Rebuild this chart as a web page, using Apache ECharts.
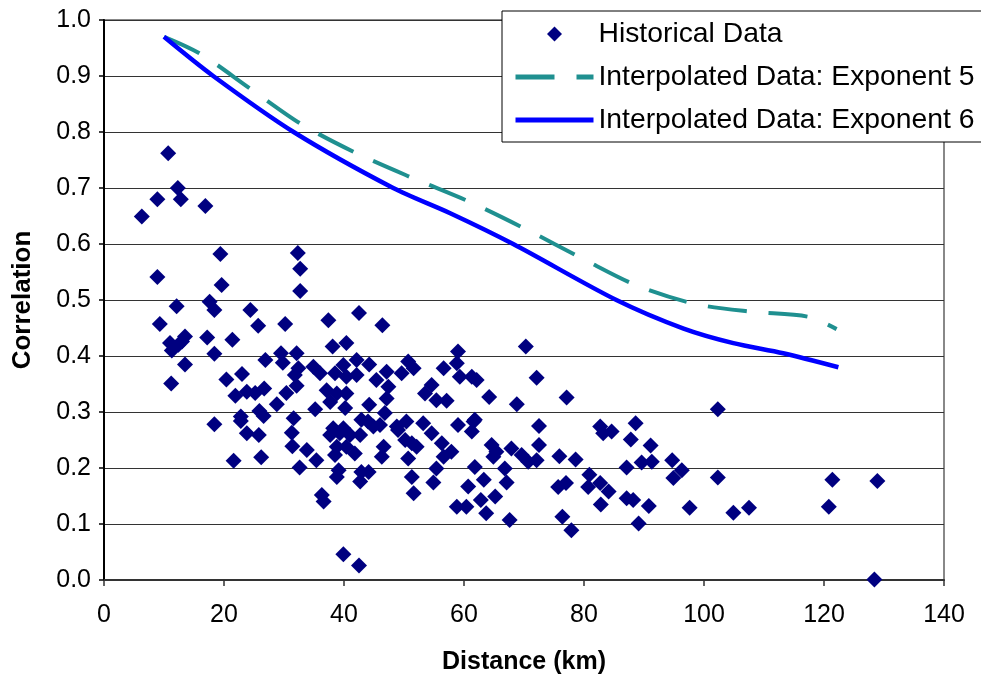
<!DOCTYPE html>
<html>
<head>
<meta charset="utf-8">
<script src="https://cdn.jsdelivr.net/npm/echarts@6/dist/echarts.min.js"></script>
<style>
html,body{margin:0;padding:0;background:#fff;}
#chart{width:981px;height:675px;}
</style>
</head>
<body>
<div id="chart"></div>
<script>
// Historical data (distance km, correlation)
var histX = [10.7,12.3,8.9,12.8,16.9,6.3,19.4,8.9,19.6,12.1,17.6,18.4,24.4,9.3,25.7,30.2,32.3,32.7,32.7,
  11.0,11.3,12.4,13.5,13.0,17.2,21.4,18.4,13.5,11.2,26.9,29.5,29.8,32.1,20.4,23.0,21.9,23.8,25.2,26.7,28.8,30.4,32.1,
  18.4,22.8,22.8,25.9,26.6,23.8,25.8,31.6,31.3,31.4,21.6,26.2,32.6,
  37.4,42.5,46.4,38.1,40.4,42.1,44.2,34.9,36.0,32.4,38.5,39.9,40.4,42.1,47.1,50.7,51.6,49.6,56.6,59.0,58.8,61.3,62.1,59.3,45.4,
  31.8,37.1,38.8,40.4,47.4,47.1,54.6,53.5,55.4,57.1,35.2,37.7,40.2,44.2,46.8,42.9,50.4,53.2,59.0,61.6,38.2,39.9,44.9,48.8,
  44.0,46.0,49.0,54.6,61.3,37.7,39.3,41.0,42.7,38.8,40.4,41.8,38.5,46.6,46.3,50.2,51.3,52.1,50.7,56.3,57.9,56.6,33.8,35.4,
  39.1,38.8,42.9,44.1,42.7,51.3,55.4,54.9,61.8,60.7,36.3,36.6,51.6,58.8,60.4,39.9,42.5,
  70.3,72.1,64.2,68.8,77.1,61.8,72.5,64.6,65.4,64.9,67.9,72.5,69.6,70.7,72.1,75.9,78.6,82.7,83.2,84.6,88.6,87.8,91.1,87.1,89.6,91.3,
  66.8,67.1,63.3,62.8,65.2,63.7,67.6,75.7,77.0,80.9,80.7,82.7,84.1,82.8,87.1,88.2,90.8,76.4,77.9,89.1,
  102.3,94.7,96.3,94.9,102.3,121.4,128.9,97.6,104.9,107.5,120.8,128.4];
var histY = [0.762,0.700,0.680,0.680,0.668,0.649,0.582,0.541,0.527,0.489,0.497,0.482,0.482,0.457,0.454,0.457,0.584,0.556,0.516,
  0.423,0.410,0.420,0.435,0.426,0.433,0.429,0.404,0.385,0.351,0.393,0.405,0.388,0.405,0.358,0.368,0.329,0.336,0.334,0.342,0.314,0.334,0.347,
  0.278,0.292,0.284,0.302,0.293,0.262,0.259,0.289,0.263,0.239,0.213,0.219,0.201,
  0.464,0.477,0.455,0.417,0.423,0.393,0.385,0.381,0.369,0.378,0.369,0.384,0.363,0.366,0.372,0.390,0.378,0.369,0.378,0.408,0.387,0.363,0.357,0.363,0.357,
  0.366,0.339,0.333,0.333,0.345,0.324,0.348,0.333,0.321,0.320,0.305,0.318,0.307,0.313,0.298,0.286,0.283,0.280,0.277,0.283,0.271,0.271,0.274,0.274,
  0.283,0.277,0.268,0.262,0.265,0.259,0.262,0.259,0.259,0.238,0.238,0.226,0.223,0.238,0.220,0.250,0.244,0.238,0.217,0.244,0.229,0.220,0.232,0.214,
  0.196,0.184,0.193,0.193,0.176,0.184,0.199,0.174,0.202,0.167,0.152,0.140,0.155,0.131,0.131,0.046,0.026,
  0.417,0.361,0.327,0.314,0.326,0.286,0.275,0.241,0.229,0.220,0.235,0.241,0.223,0.211,0.214,0.221,0.215,0.274,0.262,0.265,0.280,0.251,0.240,0.201,0.210,0.211,
  0.199,0.174,0.179,0.143,0.149,0.119,0.107,0.166,0.173,0.188,0.166,0.173,0.158,0.135,0.146,0.143,0.132,0.113,0.089,0.101,
  0.305,0.214,0.196,0.182,0.183,0.179,0.177,0.129,0.120,0.129,0.131,0.001];

// Interpolated curves
var exp5X = [10, 16, 24.3, 32.9, 42.1, 51.6, 61, 70.4, 79.9, 89, 98.5, 107.9, 117.4, 122.1];
var exp5Y = [0.97, 0.94, 0.878, 0.814, 0.762, 0.717, 0.675, 0.626, 0.573, 0.525, 0.493, 0.479, 0.470, 0.448];
var exp6X = [10, 18.2, 31.6, 48.2, 57.7, 68.2, 85.4, 96.6, 104.9, 113.2, 122.4];
var exp6Y = [0.97, 0.90, 0.80, 0.70, 0.655, 0.60, 0.50, 0.449, 0.423, 0.405, 0.380];

var seriesNames = ['Historical Data', 'Interpolated Data: Exponent 5', 'Interpolated Data: Exponent 6'];

function pairs(xs, ys) { return xs.map(function (x, i) { return [x, ys[i]]; }); }

var FONT = '"Liberation Sans", Arial, sans-serif';
// legend icon: small diamond centred in a 78x15 box (leading moveTo points set the box extent)
var DIAMOND_ICON = 'path://M0,0 M78,15 M39,0 L46.5,7.5 L39,15 L31.5,7.5 Z';

var chart = echarts.init(document.getElementById('chart'), null, {renderer: 'canvas'});
chart.setOption({
  animation: false,
  backgroundColor: '#fff',
  textStyle: {fontFamily: FONT},
  grid: {left: 104, right: 37, top: 20, bottom: 95, outerBoundsMode: 'none', containLabel: false,
    show: true, borderColor: '#888', borderWidth: 2, backgroundColor: 'transparent'},
  legend: {
    orient: 'vertical', left: 502, top: 11,
    itemWidth: 78, itemHeight: 15, itemGap: 15,
    padding: [9, 30, 8, 11],
    backgroundColor: '#fff', borderColor: '#000', borderWidth: 1,
    textStyle: {fontSize: 28.3, color: '#000', fontFamily: FONT},
    data: [
      {name: seriesNames[0], icon: DIAMOND_ICON},
      {name: seriesNames[1], itemStyle: {opacity: 0, borderWidth: 0}, lineStyle: {width: 5}},
      {name: seriesNames[2], itemStyle: {opacity: 0, borderWidth: 0}, lineStyle: {width: 5}}
    ]
  },
  xAxis: {
    type: 'value', min: 0, max: 140, interval: 20,
    name: 'Distance (km)', nameLocation: 'middle', nameGap: 70,
    nameTextStyle: {fontSize: 25, fontWeight: 'bold', color: '#000', fontFamily: FONT},
    axisLine: {show: true, onZero: false, lineStyle: {color: '#333', width: 2}},
    axisTick: {show: true, length: 6, lineStyle: {color: '#333', width: 1.5}},
    axisLabel: {fontSize: 25, color: '#000', margin: 23, fontFamily: FONT},
    splitLine: {show: false}
  },
  yAxis: {
    type: 'value', min: 0, max: 1, interval: 0.1,
    name: 'Correlation', nameLocation: 'middle', nameGap: 68,
    nameTextStyle: {fontSize: 26, fontWeight: 'bold', color: '#000', fontFamily: FONT},
    axisLine: {show: true, onZero: false, lineStyle: {color: '#000', width: 2}},
    axisTick: {show: true, length: 5, lineStyle: {color: '#000', width: 1.5}},
    axisLabel: {fontSize: 25, color: '#000', margin: 13, fontFamily: FONT,
      formatter: function (v) { return v.toFixed(1); }},
    splitLine: {show: true, lineStyle: {color: '#333', width: 1}}
  },
  series: [
    {
      name: seriesNames[0], type: 'scatter', symbol: 'diamond', symbolSize: 16,
      itemStyle: {color: '#000080', opacity: 1},
      data: pairs(histX, histY), z: 3
    },
    {
      name: seriesNames[1], type: 'line', smooth: 0.3, showSymbol: false, symbol: 'none',
      lineStyle: {color: '#1f9090', width: 4, type: [39, 22]},
      itemStyle: {color: '#1f9090'},
      data: pairs(exp5X, exp5Y), z: 4
    },
    {
      name: seriesNames[2], type: 'line', smooth: 0.3, showSymbol: false, symbol: 'none',
      lineStyle: {color: '#0000ff', width: 4.5},
      itemStyle: {color: '#0000ff'},
      data: pairs(exp6X, exp6Y), z: 5
    }
  ]
});
</script>
</body>
</html>
